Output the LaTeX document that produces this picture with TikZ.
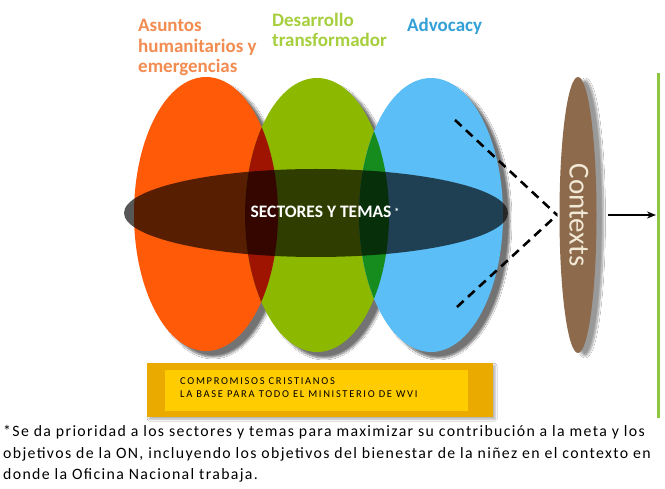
\documentclass[tikz,border=0pt]{standalone}
\usepackage{fontspec}
\setmainfont{Carlito}
\newfontfamily\notefont[LetterSpace=8.6]{Carlito}
\newfontfamily\boxfont[LetterSpace=16]{Carlito}
\usetikzlibrary{shapes.geometric,arrows.meta,shadows.blur}
\definecolor{corange}{HTML}{FF5A08}
\definecolor{cgreen}{HTML}{8CB800}
\definecolor{cblue}{HTML}{5CBEF6}
\definecolor{cog}{HTML}{9E1400}
\definecolor{cgb}{HTML}{168C1E}
\definecolor{cbrown}{HTML}{8C6A4B}
\definecolor{ccream}{HTML}{F2E8D6}
\definecolor{labor}{HTML}{F28C50}
\definecolor{labgr}{HTML}{A6CF3E}
\definecolor{labbl}{HTML}{34A0D8}
\definecolor{cline}{HTML}{8DC63F}
\definecolor{ygold}{HTML}{EBAA00}
\definecolor{yinner}{HTML}{FFCC00}
\begin{document}
\begin{tikzpicture}[x=1pt,y=-1pt,
  lab/.style={font=\bfseries\fontsize{19}{20}\selectfont, anchor=base west, inner sep=0pt},
  big/.style={ellipse, inner sep=0pt, minimum width=144pt, minimum height=274pt,
     blur shadow={shadow xshift=7pt, shadow yshift=-6pt, shadow blur steps=8, shadow opacity=55}},
  note/.style={font=\notefont\fontsize{15.8}{17}\selectfont, anchor=base west, inner sep=0pt},
  boxtxt/.style={font=\boxfont\fontsize{10.5}{11}\selectfont, anchor=base west, inner sep=0pt},
  dash line/.style={line width=2.6pt, dash pattern=on 9pt off 6pt}]
\useasboundingbox (0,0) rectangle (665,489);
\fill[white] (0,0) rectangle (665,489);

% top labels
\node[lab, text=labor] (asun1) at (138,32) {Asuntos};
\node[lab, text=labor] (asun2) at (138,53) {humanitarios y};
\node[lab, text=labor] (asun3) at (138,73) {emergencias};
\node[lab, text=labgr] (des1) at (272,27) {Desarrollo};
\node[lab, text=labgr] (des2) at (272,47) {transformador};
\node[lab, text=labbl] (adv) at (407,32) {Advocacy};

% big ellipses
\node[big, fill=corange] (hum) at (206,214) {};
\node[big, fill=cgreen] (dev) at (317,215) {};
\begin{scope}
  \clip (206,214) ellipse [x radius=72pt, y radius=137pt];
  \fill[cog] (317,215) ellipse [x radius=72pt, y radius=137pt];
\end{scope}
\node[big, fill=cblue] (adc) at (431,215) {};
\begin{scope}
  \clip (317,215) ellipse [x radius=72pt, y radius=137pt];
  \fill[cgb] (431,215) ellipse [x radius=72pt, y radius=137pt];
\end{scope}

% central dark ellipse
\node[ellipse, inner sep=0pt, minimum width=384pt, minimum height=88pt,
      fill=black, fill opacity=0.66] (sect) at (316,213) {};
\node[font=\bfseries\fontsize{17.5}{18}\selectfont, text=white, inner sep=0pt] (secttxt) at (325,212)
  {SECTORES Y TEMAS\,\raisebox{0.3ex}{\fontsize{10}{10}\selectfont*}};

% contexts
\node[ellipse, inner sep=0pt, minimum width=37pt, minimum height=276pt, fill=cbrown,
      blur shadow={shadow xshift=7pt, shadow yshift=-3pt, shadow blur steps=10, shadow opacity=40}]
      (ctx) at (578,215) {};
\node[rotate=-90, text=ccream, font=\fontsize{29}{30}\selectfont, inner sep=0pt] (ctxt) at (579,215) {Contexts};

% dashed connectors
\coordinate (d1) at (455,120);
\coordinate (d2) at (457,307);
\coordinate (dj) at (557,215);
\draw[dash line] (d1) -- (dj);
\draw[dash line] (d2) -- (dj);

% green line and arrow
\coordinate (g1) at (658,73);
\coordinate (g2) at (658,418);
\coordinate (gm) at (656,215);
\draw[cline, line width=3pt] (g1) -- (g2);
\draw[line width=1.8pt, -{Stealth[length=9pt, width=7pt]}] (ctx.east) ++(11,0) -- (gm);

% yellow box
\node[fill=ygold, inner sep=0pt, minimum width=346pt, minimum height=54pt, anchor=north west,
      blur shadow={shadow xshift=2pt, shadow yshift=-2pt, shadow blur steps=6, shadow opacity=30}]
      (base) at (147,363) {};
\node[fill=yinner, inner sep=0pt, minimum width=303pt, minimum height=41pt, anchor=north west]
      (basein) at (165,370) {};
\node[boxtxt] (bt1) at (180,385) {COMPROMISOS CRISTIANOS};
\node[boxtxt] (bt2) at (180,398) {LA BASE PARA TODO EL MINISTERIO DE WVI};

% footnote
\node[note] (n1) at (3,437) {*Se da prioridad a los sectores y temas para maximizar su contribución a la meta y los};
\node[note] (n2) at (3,458) {objetivos de la ON, incluyendo los objetivos del bienestar de la niñez en el contexto en};
\node[note] (n3) at (3,479) {donde la Oficina Nacional trabaja.};
\end{tikzpicture}
\end{document}
